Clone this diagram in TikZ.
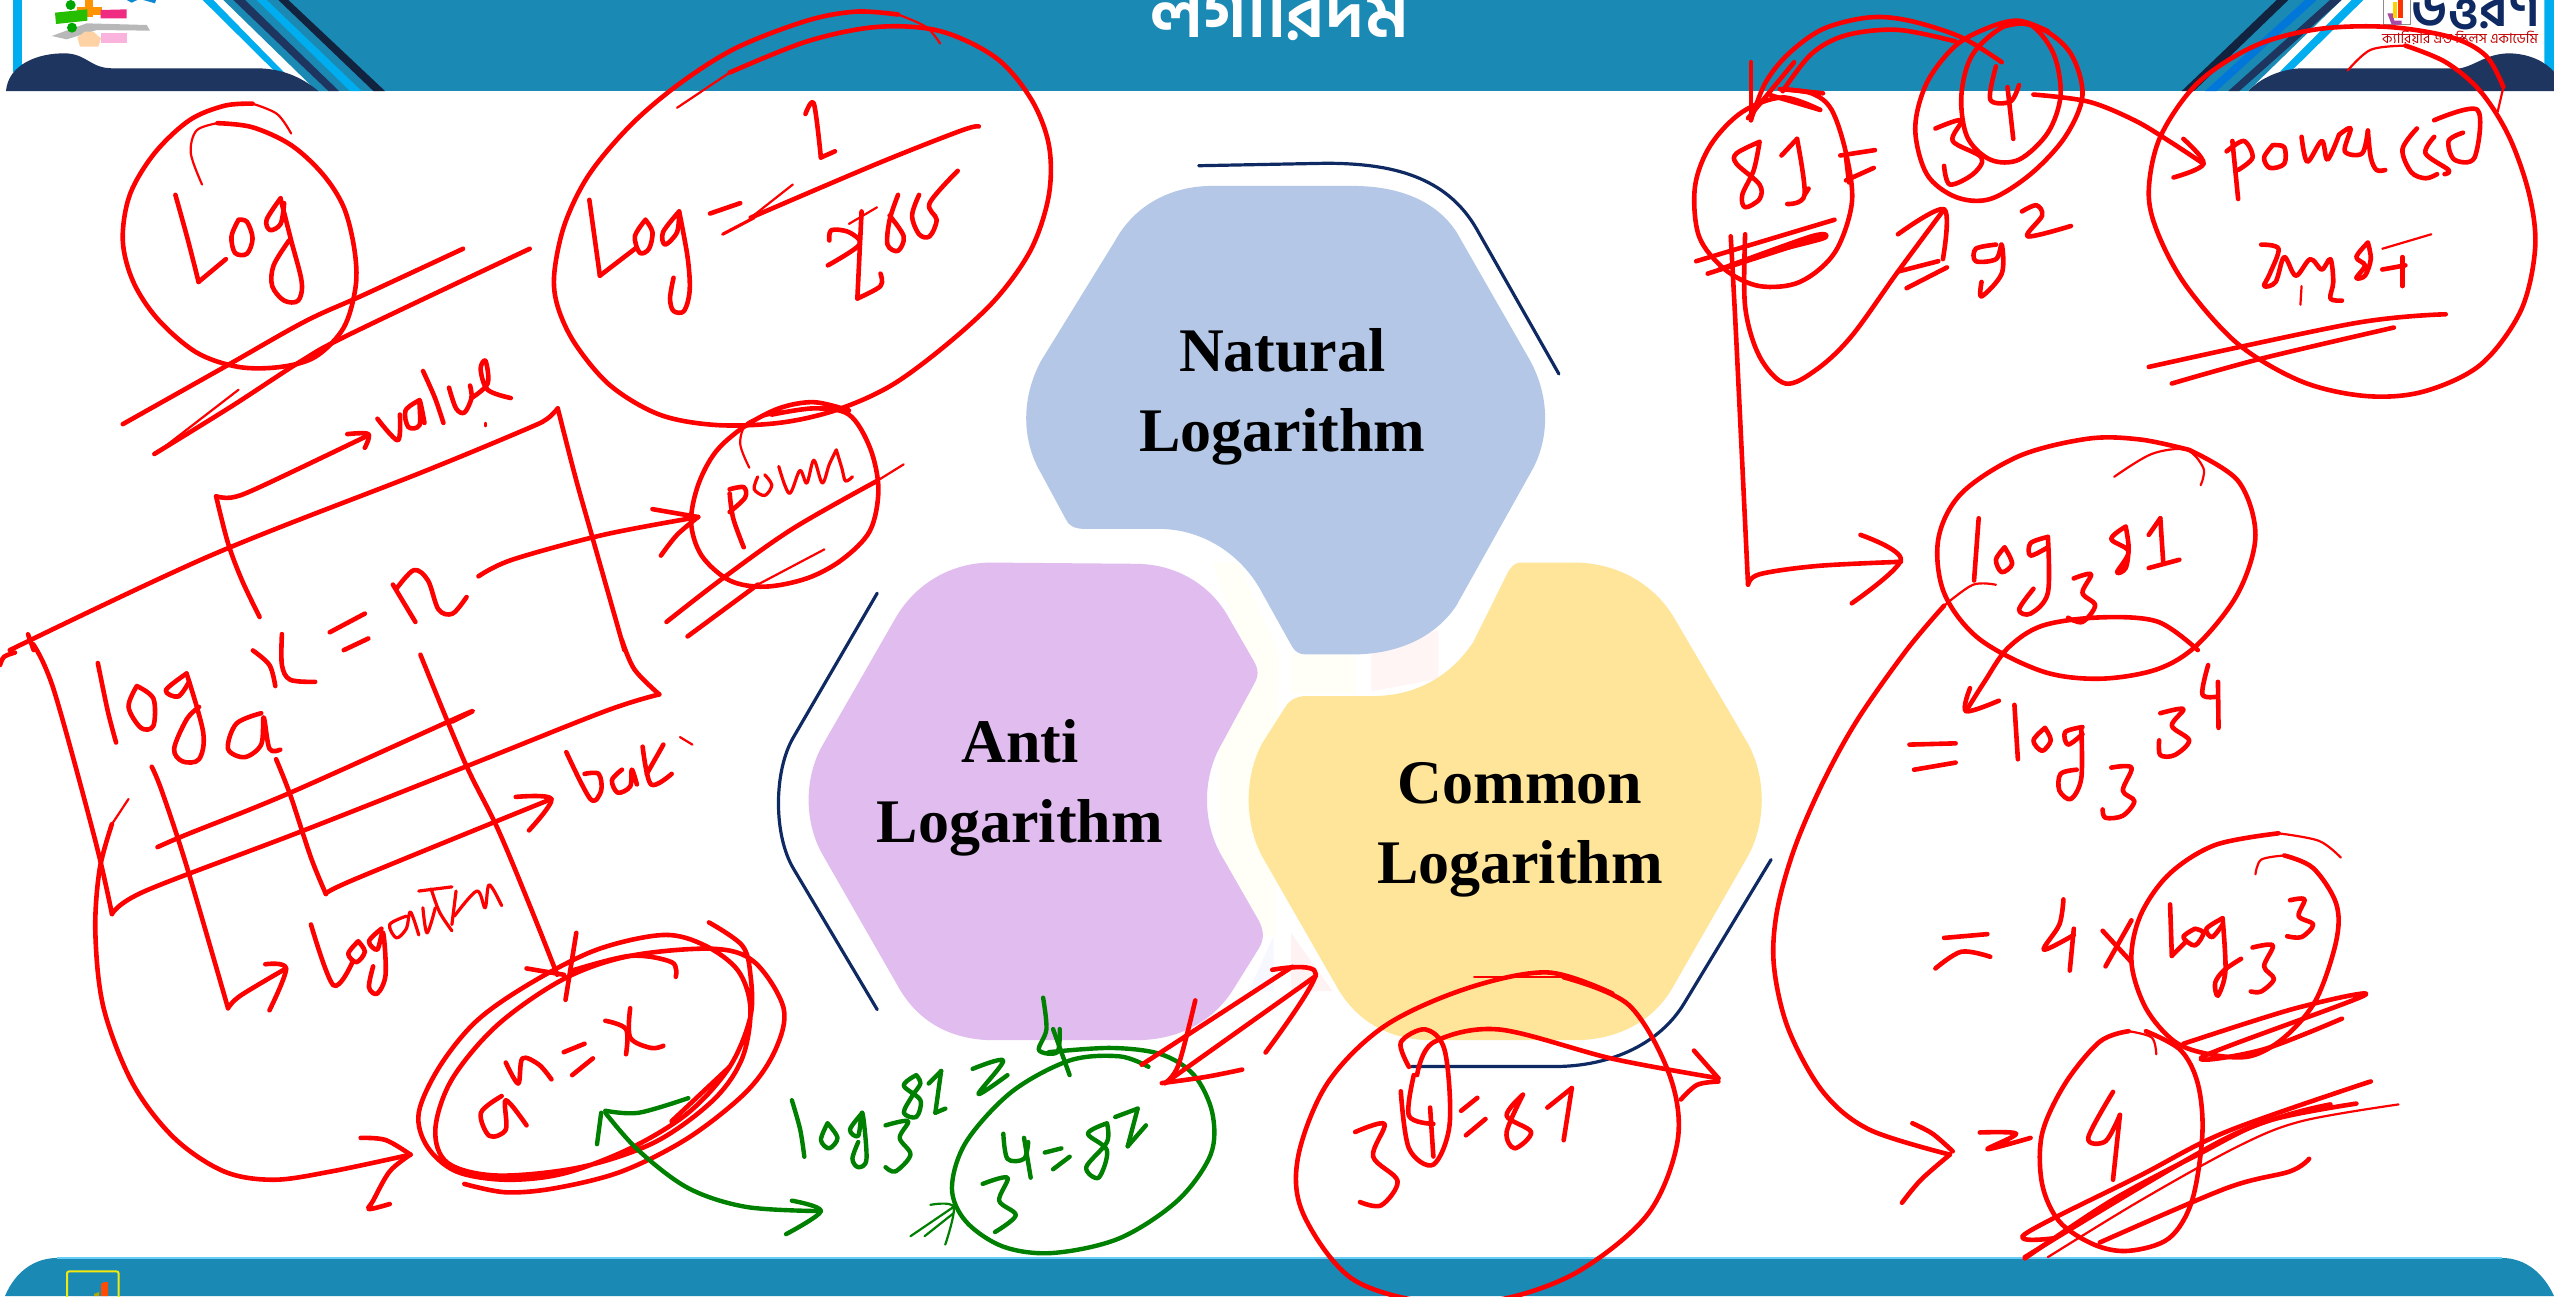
\documentclass[tikz,border=0pt]{standalone}
\usepackage{fontspec}
\setmainfont{Liberation Serif}
\newfontfamily\bn[Script=Bengali]{Hind Siliguri}
\definecolor{bar}{HTML}{1A8AB5}
\definecolor{cyanb}{HTML}{00AEEF}
\definecolor{navyb}{HTML}{1D355F}
\definecolor{navyd}{HTML}{12233F}
\definecolor{navyl}{HTML}{0F2A63}
\definecolor{shblue}{HTML}{B4C7E7}
\definecolor{shpurple}{HTML}{E1BCEE}
\definecolor{shyellow}{HTML}{FEE599}
\definecolor{inkr}{HTML}{FF0000}
\definecolor{inkg}{HTML}{008000}
\tikzset{
  zA/.style={x=.3508pt,y=-.2073pt},
  zB/.style={x=.4146pt,y=-.2092pt,shift={(0pt,-320pt)}},
  zC/.style={x=.2883pt,y=-.2073pt,shift={(825pt,0pt)}},
  zD/.style={x=.2883pt,y=-.2092pt,shift={(825pt,-320pt)}},
  zE/.style={x=.3348pt,y=-.3062pt,shift={(375pt,-70pt)}},
  zS/.style={x=.8144pt,y=-.8144pt},
  zL/.style={x=.16667pt,y=-.16667pt},
  zR/.style={x=.16667pt,y=-.16667pt,shift={(1050pt,0pt)}},
  redink/.style={draw=inkr,line width=2.3pt,line cap=round,line join=round},
  redmid/.style={draw=inkr,line width=1.6pt,line cap=round,line join=round},
  redthin/.style={draw=inkr,line width=1.1pt,line cap=round,line join=round},
  greenink/.style={draw=inkg,line width=2.2pt,line cap=round,line join=round},
  greenthin/.style={draw=inkg,line width=1.1pt,line cap=round,line join=round},
  navyline/.style={draw=navyl,line width=1.6pt,line cap=round},
  lbl/.style={font=\bfseries\fontsize{31}{40}\selectfont,align=center,text=black,inner sep=0pt}
}
\newcommand\rd[1]{\draw[redink] plot[smooth,tension=.55] coordinates {#1};}
\newcommand\rmd[1]{\draw[redmid] plot[smooth,tension=.55] coordinates {#1};}
\newcommand\rt[1]{\draw[redthin] plot[smooth,tension=.55] coordinates {#1};}
\newcommand\gr[1]{\draw[greenink] plot[smooth,tension=.55] coordinates {#1};}
\newcommand\gt[1]{\draw[greenthin] plot[smooth,tension=.55] coordinates {#1};}
\begin{document}
\begin{tikzpicture}
\useasboundingbox (0pt,0pt) rectangle (1277pt,-648pt);
\clip (0pt,0pt) rectangle (1277pt,-648pt);
\fill[white] (0pt,0pt) rectangle (1277pt,-648pt);
% header
\fill[bar] (0pt,0pt) rectangle (1277pt,-45.3pt);
\begin{scope}[zL]
\fill[white] (0,0) rectangle (40,275);
\fill[white] (40,0) -- (610,0) -- (955,275) -- (40,275) -- cycle;
\fill[white] (610,0) -- (680,0) -- (950,272) -- (860,272) -- cycle;
\fill[cyanb] (40,0) rectangle (66,215);
\fill[cyanb] (608,0) -- (640,0) -- (860,225) -- (825,215) -- cycle;
\fill[bar] (670,0) -- (700,0) -- (985,273) -- (950,273) -- cycle;
\fill[navyb] (700,0) -- (735,0) -- (1017,273) -- (985,273) -- cycle;
\fill[cyanb] (770,0) -- (800,0) -- (1085,273) -- (1050,273) -- cycle;
\fill[navyd] (835,0) -- (865,0) -- (1155,273) -- (1120,273) -- cycle;
\fill[navyb] (18,273) .. controls (25,195) and (110,158) .. (200,160) .. controls (265,165) and (270,205) .. (340,205) -- (780,205) .. controls (860,208) and (915,240) .. (955,273) -- cycle;
% logo art
\fill[black!28] (155,108) -- (260,70) -- (440,75) -- (450,92) -- (290,90) -- (200,118) -- cycle;
\fill[orange!35] (232,112) -- (255,95) -- (280,95) -- (303,115) -- (295,140) -- (240,140) -- cycle;
\fill[magenta!30] (302,98) rectangle (380,130);
\fill[orange!85!yellow] (255,0) rectangle (280,52);
\fill[orange!85!yellow] (232,20) rectangle (305,44);
\fill[magenta!75!red!85!white] (302,30) -- (380,28) -- (380,55) -- (302,55) -- cycle;
\fill[green!70!black!85!yellow] (165,38) -- (262,28) -- (262,62) -- (168,72) -- cycle;
\fill[green!65!black] (212,15) circle[radius=15];
\fill[green!65!black] (216,83) circle[radius=15];
\fill[cyan!70!blue] (380,0) -- (412,0) -- (395,8) -- cycle;
\fill[cyan!70!blue] (430,0) -- (468,0) -- (465,10) -- cycle;
\end{scope}
\begin{scope}[zR]
\fill[white] (725,0) -- (1362,0) -- (1362,273) -- (445,273) -- cycle;
\fill[navyd] (530,0) -- (565,0) -- (282,273) -- (245,273) -- cycle;
\fill[blue!45!cyan!85!black] (615,0) -- (650,0) -- (350,273) -- (315,273) -- cycle;
\fill[navyb] (690,0) -- (725,0) -- (418,273) -- (385,273) -- cycle;
\fill[cyanb] (755,0) -- (790,0) -- (575,212) -- (540,215) -- cycle;
\fill[cyanb] (1333,0) -- (1362,0) -- (1362,215) -- (1333,190) -- cycle;
\fill[navyb] (445,273) .. controls (480,235) and (540,208) .. (600,205) -- (1080,205) .. controls (1130,195) and (1160,160) .. (1230,160) .. controls (1290,162) and (1335,185) .. (1362,215) -- (1362,273) -- cycle;
\draw[black!45,line width=.4pt] (850,-5) rectangle (930,72);
\fill[violet!70!white] (862,40) -- (880,40) -- (882,62) -- (905,62) -- (905,74) -- (875,74) -- cycle;
\fill[yellow!70!orange] (880,5) rectangle (892,55);
\fill[red!60!orange] (895,0) rectangle (910,55);
\node[anchor=base,inner sep=0pt,text=navyl] (logotext) at (1128,78) {\bn\bfseries\fontsize{27}{27}\selectfont উত্তরণ};
\node[anchor=base,inner sep=0pt,text=red!75!black] (logosub) at (1080,130) {\bn\fontsize{7}{8}\selectfont ক্যারিয়ার এন্ড স্কিলস একাডেমি};
\end{scope}
\node[anchor=base,inner sep=0pt,text=white] (title) at (640pt,-18.5pt) {\bn\bfseries\fontsize{36.5}{37}\selectfont লগারিদম};
% bottom bar
\fill[bar] (2.5pt,-648pt) .. controls (8pt,-635pt) and (18pt,-629pt) .. (28.5pt,-629pt) -- (1251pt,-629pt) .. controls (1263pt,-629pt) and (1272pt,-637pt) .. (1277pt,-648pt) -- cycle;
\draw[cyan!60!white,line width=.6pt] (28.5pt,-629pt) -- (1251pt,-629pt);
\draw[yellow!95!black,line width=1pt,rounded corners=1pt] (33.5pt,-655pt) -- (33.5pt,-635.7pt) -- (59.3pt,-635.7pt) -- (59.3pt,-655pt);
\fill[orange!60!red] (50.5pt,-648pt) -- (50.5pt,-642pt) .. controls (51pt,-641pt) and (53pt,-641pt) .. (54pt,-641pt) -- (54pt,-648pt) -- cycle;
\fill[olive!70!yellow] (47pt,-648pt) -- (47pt,-647pt) -- (49.5pt,-646pt) -- (49.5pt,-648pt) -- cycle;
% hexagons
\begin{scope}[zE]
\fill[yellow!3] (690,690) -- (730,690) -- (790,840) -- (785,1300) -- (745,1300) -- (700,1180) -- (700,980) -- (755,880) -- cycle;
\fill[black!2!yellow!3] (808,840) rectangle (905,905);
\fill[red!4] (928,835) -- (1028,800) -- (1028,880) -- (928,900) -- cycle;
\fill[blue!3] (745,1390) -- (782,1300) -- (782,1390) -- cycle;
\fill[red!5] (808,1295) -- (870,1390) -- (808,1390) -- cycle;
\fill[shblue] (690,75) -- (900,75) .. controls (970,75) and (1025,100) .. (1055,150) -- (1165,360) .. controls (1195,420) and (1195,490) .. (1165,545) -- (1055,760) .. controls (1025,810) and (970,840) .. (900,840) -- (830,840) .. controls (820,840) and (814,835) .. (810,828) -- (760,730) .. controls (730,675) and (675,635) .. (610,635) -- (500,635) .. controls (485,635) and (476,630) .. (472,620) -- (435,545) .. controls (405,490) and (405,420) .. (435,360) -- (545,165) .. controls (575,105) and (630,75) .. (690,75) -- cycle;
\fill[shpurple] (360,690) -- (575,692) .. controls (640,692) and (690,730) .. (715,780) -- (752,850) .. controls (760,865) and (760,875) .. (752,890) -- (705,985) .. controls (675,1040) and (675,1115) .. (705,1170) -- (760,1275) .. controls (768,1292) and (768,1305) .. (760,1320) -- (720,1390) .. controls (690,1440) and (640,1470) .. (575,1470) -- (365,1470) .. controls (300,1470) and (250,1440) .. (220,1380) -- (110,1170) .. controls (80,1115) and (80,1040) .. (110,985) -- (215,785) .. controls (245,725) and (300,690) .. (360,690) -- cycle;
\fill[shyellow] (1150,690) -- (1230,690) .. controls (1295,690) and (1350,725) .. (1380,780) -- (1490,985) .. controls (1518,1040) and (1518,1115) .. (1490,1170) -- (1380,1380) .. controls (1350,1440) and (1295,1470) .. (1230,1470) -- (1020,1470) .. controls (955,1470) and (905,1440) .. (875,1380) -- (765,1170) .. controls (738,1115) and (738,1040) .. (765,985) -- (800,925) .. controls (806,914) and (818,908) .. (830,908) -- (930,908) .. controls (1000,908) and (1050,870) .. (1080,820) -- (1130,710) .. controls (1135,698) and (1142,690) .. (1150,690) -- cycle;
\draw[navyline] (670,42) -- (860,38) .. controls (960,38) and (1040,60) .. (1085,145) -- (1208,382);
\draw[navyline] (190,740) -- (65,975) .. controls (35,1031) and (35,1135) .. (65,1190) -- (190,1420);
\draw[navyline] (988,1513) -- (1200,1513) .. controls (1290,1513) and (1360,1473) .. (1395,1410) -- (1525,1175);
\node[lbl] (natural) at (795,420) {Natural\\Logarithm};
\node[lbl] (anti) at (403,1058) {Anti\\Logarithm};
\node[lbl] (common) at (1150,1127) {Common\\Logarithm};
\end{scope}
% ink: upper left
\begin{scope}[zA]
\rt{(288,445) (272,370) (280,315) (310,297)}
\rd{(310,297) (360,307) (415,350) (460,420) (490,500) (505,600) (507,690) (490,790) (450,860) (400,885) (340,885) (280,850) (225,770) (190,680) (175,580) (185,470) (220,370) (270,290) (320,255) (360,250)}
\rt{(360,250) (395,275) (415,322)}
\rd{(250,470) (268,580) (283,680)} \rd{(283,680) (322,625)}
\rd{(340,530) (330,570) (335,610) (352,612) (360,575) (352,535) (340,530)}
\rd{(400,478) (380,530) (385,555) (400,540) (405,490)}
\rd{(400,480) (415,580) (430,680) (425,725) (405,725) (388,690) (390,640) (412,580)}
\rd{(175,1023) (320,885) (435,775) (520,710) (660,600)}
\rd{(220,1095) (330,980) (430,870) (500,805) (755,600)}
\rt{(225,1090) (340,940)}
\rt{(965,260) (1040,175)}
\rd{(1040,175) (1150,100) (1250,65) (1340,75) (1420,140) (1470,240) (1495,350) (1495,470) (1470,600) (1420,720) (1350,830) (1270,930) (1190,990) (1110,1020) (1020,1025) (940,1000) (870,930) (820,830) (795,740) (790,660) (805,540) (840,420) (900,300) (970,200) (1050,115) (1150,50) (1220,28) (1280,35)}
\rt{(1280,35) (1320,65) (1340,105)}
\rd{(840,482) (855,665)} \rd{(855,665) (905,600)}
\rd{(920,530) (905,570) (912,610) (925,600) (930,560) (920,530)}
\rd{(968,510) (945,560) (948,590) (965,560) (968,510)}
\rd{(968,510) (980,620) (983,700) (975,750) (960,750) (955,720) (960,670)}
\rd{(1012,515) (1055,490)} \rmd{(1030,565) (1075,525)}
\rd{(1395,305) (1370,315) (1250,395) (1070,525)} \rt{(1070,525) (1130,445)}
\rd{(1148,275) (1160,250) (1170,380)} \rd{(1170,380) (1190,365)}
\rd{(1228,510) (1222,720)} \rd{(1222,720) (1255,690) (1255,660)}
\rd{(1180,640) (1225,590) (1210,560) (1185,555) (1182,580)}
\rt{(1210,540) (1250,500)}
\rd{(1280,470) (1268,530) (1265,590) (1280,605) (1288,570) (1268,520)}
\rd{(1310,470) (1300,520) (1310,565) (1325,570) (1335,530) (1325,490) (1365,412)}
% value
\rd{(370,1488) (345,1400) (325,1310) (308,1197)}
\rd{(308,1197) (330,1200) (370,1175) (525,1050)}
\rd{(495,1047) (525,1047) (520,1080)}
\rd{(538,1010) (567,1062) (570,1000)}
\rd{(598,965) (578,990) (582,1030) (598,1025) (598,965) (605,1020)}
\rd{(603,895) (620,960) (632,1020)}
\rd{(640,935) (650,985) (662,995) (672,960) (670,930)}
\rd{(672,960) (695,925) (692,870) (685,890) (695,940) (728,960)}
\rt{(692,1020) (692,1028)}
% box top and right
\rd{(14,1568) (300,1340) (600,1140) (750,1035) (780,1010) (795,985)}
\rd{(795,985) (820,1150) (845,1300) (890,1568)}
\rd{(40,1530) (48,1568)}
% n and arrow to power
\rd{(470,1525) (520,1480)} \rd{(490,1568) (525,1540)}
\rd{(560,1410) (592,1500)} \rd{(565,1420) (590,1375) (610,1400) (625,1470) (645,1480) (665,1440)}
\rd{(682,1390) (730,1350) (860,1290) (995,1247)}
\rd{(930,1228) (995,1247)} \rd{(995,1247) (965,1290) (942,1340)}
% power circle
\rt{(1068,1128) (1055,1070) (1065,1020) (1100,1000)}
\rd{(1100,1000) (1160,985) (1210,1000) (1240,1080) (1252,1180) (1240,1280) (1200,1350) (1150,1395) (1090,1415) (1040,1400) (1000,1340) (985,1260) (995,1170) (1020,1090) (1060,1030) (1110,985) (1160,970) (1210,990)}
\rd{(1040,1190) (1045,1250) (1060,1320)} \rd{(1040,1180) (1060,1175) (1062,1200) (1040,1235)}
\rmd{(1080,1150) (1075,1180) (1090,1195) (1100,1170) (1090,1145)}
\rmd{(1110,1125) (1125,1190) (1140,1135) (1150,1165) (1160,1110) (1172,1165) (1182,1120) (1192,1085)}
\rmd{(1192,1085) (1200,1130) (1205,1160) (1215,1150)}
\rd{(950,1500) (1030,1395) (1130,1275) (1250,1160)} \rt{(1250,1160) (1288,1120)}
\rd{(980,1535) (1080,1410)} \rt{(1080,1410) (1175,1325)}
\end{scope}
% ink: lower left
\begin{scope}[zB]
\rd{(0,60) (5,40) (18,30)}
\rd{(795,130) (730,170) (565,300) (360,460) (175,600) (135,655)}
\rd{(750,0) (765,70) (795,130)}
\rd{(135,655) (115,480) (65,120) (40,10)}
\rd{(305,25) (325,60) (332,110)} \rd{(340,-14) (340,60) (350,95) (380,100)}
\rd{(118,55) (130,170) (140,245)}
\rd{(165,110) (155,160) (170,210) (185,205) (185,140) (165,110)}
\rd{(225,80) (200,120) (215,135) (228,100)}
\rd{(225,80) (245,220) (240,285) (220,290) (210,260) (225,190) (240,160)}
\rd{(315,175) (285,200) (275,260) (295,280) (315,250) (318,185) (325,260) (338,262)}
\rd{(183,303) (195,360) (225,540) (275,880)} \rd{(275,880) (290,850) (345,785)} \rd{(320,775) (345,785) (325,885)}
\rd{(333,285) (350,370) (375,520) (393,607)} \rd{(393,607) (430,570) (665,380)} \rd{(622,375) (665,380) (638,455)}
\rd{(190,495) (225,465) (350,365) (560,178) (545,195)}
\rd{(507,35) (560,290) (600,450) (640,640) (672,800)} \rd{(635,785) (680,800)} \rd{(695,700) (682,860)}
\rd{(683,268) (712,380) (725,360) (722,320) (705,320)}
\rd{(750,310) (738,335) (745,365) (760,350) (762,310) (768,345)}
\rd{(775,255) (785,345) (810,320)} \rd{(800,250) (780,320)} \rt{(820,232) (835,250)}
\rd{(375,680) (402,825) (425,770)}
\rd{(432,720) (420,750) (430,770) (440,745) (432,720)}
\rd{(460,690) (445,720) (455,740) (462,700) (465,800) (455,845) (445,830) (450,780)}
\rmd{(490,660) (470,680) (478,712) (490,690) (495,650) (505,705)}
\rmd{(510,640) (515,700) (525,640)}
\rmd{(505,600) (545,590)} \rmd{(520,595) (530,650) (545,695)}
\rmd{(550,600) (545,680)} \rmd{(548,660) (575,600) (585,640) (590,585) (605,635)}
\rt{(155,380) (135,440)}
\rd{(135,440) (120,550) (115,700) (125,880) (160,1060) (210,1190) (270,1270) (330,1290) (400,1270) (495,1230)}
\rd{(435,1190) (465,1195) (495,1230)} \rd{(495,1230) (470,1270) (450,1340) (445,1360) (470,1348)}
\rd{(855,675) (895,730) (905,800) (905,900) (880,1020) (830,1130) (760,1215) (680,1275) (610,1290) (550,1270) (515,1210) (505,1130) (530,1020) (575,910) (640,820) (720,740) (800,705) (850,730) (890,790) (905,880) (895,1000) (860,1100) (790,1200) (700,1260) (600,1280) (540,1250) (525,1170) (545,1050) (600,920) (680,810) (760,755) (860,738) (910,770) (945,880) (935,980) (900,1080) (830,1190) (750,1270) (670,1310) (610,1320) (560,1300)}
\rd{(690,790) (760,755) (810,770) (815,805)}
\rd{(880,1020) (810,1150)}
\rd{(605,1090) (580,1130) (590,1185) (610,1170) (610,1100) (635,1160)}
\rd{(610,1010) (625,1060) (630,1000) (650,1015) (665,1050)}
\rd{(680,985) (705,965)} \rd{(690,1040) (715,1000)}
\rd{(730,910) (755,930) (755,990)} \rd{(760,880) (760,950) (785,975) (800,970)}
% green
\gr{(830,1095) (770,1130) (730,1125)} \gr{(725,1130) (720,1205)}
\gr{(730,1130) (770,1220) (830,1310) (900,1355) (990,1365)} \gr{(955,1340) (990,1365) (948,1420)}
\gr{(955,1100) (965,1170) (970,1235)}
\gr{(998,1155) (990,1195) (1000,1215) (1010,1190) (998,1155)}
\gr{(1040,1130) (1025,1170) (1035,1185) (1040,1130) (1045,1240) (1035,1260) (1028,1240) (1035,1200)}
\gr{(1068,1160) (1095,1150) (1085,1190) (1098,1230) (1080,1270) (1068,1260)}
\gr{(1105,1040) (1090,1065) (1110,1100) (1105,1140) (1090,1130) (1100,1090) (1110,1060) (1105,1040)}
\gr{(1120,1060) (1135,1030)} \gr{(1135,1030) (1128,1130)} \gr{(1128,1130) (1140,1120)}
\gr{(1173,1025) (1210,1005) (1180,1085) (1215,1040)}
\gr{(1258,855) (1262,930) (1253,980) (1275,985) (1278,930)} \gr{(1270,930) (1290,1040)}
\gr{(1265,985) (1340,975) (1400,990) (1440,1040) (1462,1130) (1460,1230) (1420,1340) (1350,1430) (1270,1465) (1210,1450) (1165,1390) (1148,1310) (1165,1200) (1220,1080) (1290,1005) (1350,995) (1385,1020)}
\gr{(1185,1300) (1215,1285) (1205,1340) (1225,1375) (1200,1415)}
\gr{(1210,1180) (1215,1240) (1235,1240) (1240,1200)} \gr{(1235,1190) (1243,1285)}
\gr{(1260,1225) (1280,1215)} \gr{(1270,1265) (1290,1235)}
\gr{(1335,1155) (1312,1180) (1335,1220) (1325,1285) (1310,1260) (1335,1200) (1335,1155)}
\gr{(1345,1140) (1372,1120)} \gr{(1372,1120) (1360,1210)} \gr{(1360,1210) (1382,1160)}
\gt{(1098,1425) (1150,1355)} \gt{(1122,1350) (1150,1355) (1140,1445)} \gt{(1115,1425) (1150,1370)}
\end{scope}
% red arrow between shapes and big circle under Common
\begin{scope}[zE]
\rd{(585,1510) (810,1350)} \rd{(620,1540) (845,1365)}
\rd{(780,1355) (845,1362) (770,1490)}
\rd{(665,1405) (640,1510) (620,1540)} \rd{(615,1540) (680,1530) (735,1518)}
\end{scope}
\begin{scope}[zS]
\rt{(905,600) (960,600)}
\rd{(960,600) (1000,617) (1025,660) (1030,700) (1012,745) (970,780) (925,797) (880,800) (830,785) (800,745) (797,710) (815,665) (850,630) (900,607) (950,597) (990,610)}
\rd{(865,655) (860,640) (875,632) (887,645) (890,690) (880,715) (865,705) (860,670)}
\rd{(832,695) (850,690) (843,710) (858,725) (848,740) (835,738)}
\rd{(868,660) (865,685) (880,690)} \rd{(878,680) (880,710)}
\rd{(897,682) (907,674)} \rd{(900,697) (912,687)}
\rd{(935,672) (925,685) (940,695) (930,705) (925,695) (935,672)}
\rd{(950,680) (965,668)} \rd{(965,668) (960,700)}
\rd{(870,660) (880,640) (920,632) (990,650) (1055,662)}
\rd{(1040,645) (1055,662)} \rd{(1055,664) (1042,666) (1032,675)}
\end{scope}
% ink: upper right
\begin{scope}[zC]
\rd{(295,265) (230,235) (160,270) (105,350) (78,450) (85,570) (130,650) (190,690) (260,680) (320,610) (350,490) (340,370) (315,265) (280,225) (225,215)}
\rd{(190,342) (150,370) (150,395) (190,445) (190,480) (165,500) (160,470) (180,410) (190,342)}
\rd{(228,375) (255,335)} \rd{(255,335) (268,470) (238,492)} \rd{(268,470) (275,455)}
\rd{(330,375) (390,362)} \rd{(340,380) (345,440)} \rd{(340,435) (388,405)}
\rd{(610,150) (540,90) (450,50) (380,42) (300,70) (240,130) (200,200) (175,290)}
\rd{(175,150) (175,290)}
\rd{(530,100) (430,72) (340,85) (280,130) (230,220)}
\rd{(170,285) (250,150)} \rd{(230,215) (300,225)} \rd{(210,230) (295,265)}
\rd{(690,75) (640,50) (590,65) (530,110) (480,200) (460,310) (480,420) (530,475) (590,480) (660,420) (720,330) (750,230) (730,130) (680,70) (620,60) (560,130) (540,230) (550,330) (590,385) (640,385) (690,320) (712,230) (700,130) (660,60) (610,65)}
\rd{(495,310) (540,290) (525,340) (575,380) (560,420) (520,445) (510,400)}
\rd{(600,160) (590,240) (625,245) (640,205)} \rd{(620,210) (630,335)}
\rd{(665,228) (760,245) (840,290) (900,340) (960,395)} \rd{(925,335) (960,395) (908,428)}
\rt{(1210,170) (1250,120) (1310,110)}
\rd{(1310,110) (1380,150) (1440,220) (1490,330) (1525,470) (1535,600) (1510,750) (1440,880) (1340,945) (1240,955) (1130,920) (1020,830) (930,690) (880,560) (865,460) (885,330) (950,200) (1050,110) (1160,70) (1280,65) (1390,90) (1450,135) (1480,210)}
\rt{(1480,210) (1470,270)}
\rd{(1010,340) (1020,480)} \rd{(1000,365) (1030,340) (1045,380) (1020,410)}
\rd{(1080,350) (1065,380) (1075,405) (1100,395) (1100,355) (1080,350)}
\rd{(1130,330) (1140,390) (1165,340) (1175,385) (1195,325)}
\rd{(1195,325) (1215,310) (1205,365) (1235,370) (1245,315)}
\rd{(1245,315) (1250,380) (1260,410) (1275,410)}
\rd{(1330,310) (1305,360) (1320,415) (1345,430) (1365,420)}
\rd{(1360,330) (1345,370) (1385,410) (1378,420)}
\rd{(1360,290) (1435,265) (1430,380) (1395,385) (1385,340) (1410,320)}
\rd{(1060,590) (1090,600) (1075,660) (1065,690) (1085,680) (1100,620) (1120,665) (1145,625) (1165,650) (1180,625) (1185,680) (1180,720) (1200,725)}
\rt{(1130,690) (1128,735)}
\rd{(1245,585) (1225,620) (1240,640) (1225,670) (1240,665) (1250,625) (1245,585)}
\rd{(1270,650) (1310,640)} \rd{(1305,620) (1305,690)} \rt{(1270,600) (1355,565)}
\rd{(865,885) (1220,780) (1380,758)} \rd{(905,925) (1060,865) (1290,790)} \rt{(1040,870) (930,915)}
\rd{(80,630) (320,530)} \rd{(100,660) (300,570)} \rd{(120,650) (280,570) (300,575) (200,610)}
\rd{(140,570) (150,830) (170,1410)}
\rd{(165,565) (165,740) (190,860) (235,925) (290,890) (350,810) (430,655) (510,505)}
\rd{(430,565) (510,505) (508,625)}
\rd{(430,655) (500,630)} \rd{(445,695) (515,645)}
\rd{(600,590) (565,600) (565,630) (600,625) (610,590) (610,660) (575,715) (575,680)}
\rd{(645,510) (670,495) (680,520) (655,570) (730,545)}
\rd{(170,1410) (190,1385) (290,1365) (435,1355)} \rd{(365,1290) (435,1350) (350,1455)}
\rt{(805,1150) (870,1095) (930,1085) (960,1130) (955,1170)}
\rd{(935,1085) (850,1060) (760,1058) (640,1100) (540,1190) (500,1300) (510,1430) (570,1540) (680,1619) (780,1637) (880,1614) (950,1554) (1020,1430) (1050,1290) (1020,1160) (935,1085)}
\rd{(570,1250) (562,1400)}
\rd{(615,1320) (600,1350) (610,1380) (628,1360) (615,1320)}
\rd{(690,1295) (660,1310) (660,1340) (690,1320)} \rd{(690,1295) (690,1430) (660,1480) (640,1470) (665,1420)}
\rd{(735,1395) (765,1385) (750,1430) (772,1460) (750,1500) (725,1490)}
\rd{(825,1270) (800,1300) (830,1330) (810,1380) (825,1370) (830,1320) (825,1270)}
\rd{(865,1290) (885,1250)} \rd{(885,1250) (890,1355)} \rd{(865,1370) (918,1350)}
\end{scope}
% ink: lower right
\begin{scope}[zD]
\rt{(600,-132) (560,-132) (510,-82)}
\rd{(510,-82) (445,24) (360,190) (300,340) (250,500) (220,650) (215,780) (240,930) (300,1080) (380,1170) (520,1230)}
\rd{(455,1155) (490,1180) (525,1222)} \rd{(520,1230) (470,1290) (437,1345)}
\rd{(950,24) (880,-44) (780,-54) (680,-34) (620,20) (580,100) (548,170)} \rd{(555,115) (548,170) (605,145)}
\rd{(450,250) (530,247)} \rd{(458,310) (530,293)}
\rd{(632,155) (638,285)}
\rd{(685,210) (665,240) (680,265) (695,240) (685,210)}
\rd{(750,208) (720,220) (725,250) (750,225)} \rd{(748,210) (748,330) (730,380) (710,360) (712,320) (740,310)}
\rd{(800,305) (835,305) (820,360) (840,385) (820,420) (790,425) (785,405)}
\rd{(885,175) (925,165) (905,205) (935,240) (910,275) (885,275) (883,240)}
\rd{(968,60) (958,130) (985,135)} \rd{(985,100) (986,210)}
\rd{(510,712) (585,703)} \rd{(495,785) (540,745) (590,757)}
\rd{(717,620) (710,680) (683,740) (735,705)} \rd{(735,690) (728,790)}
\rd{(785,695) (835,770)} \rd{(835,670) (790,780)}
\rt{(1050,560) (1060,525) (1100,515)}
\rd{(1100,515) (1150,545) (1190,630) (1190,720) (1155,860) (1100,950) (1040,995) (970,990) (910,960) (860,880) (835,770) (850,660) (900,560) (980,490) (1090,462)}
\rt{(1090,462) (1160,480) (1198,520)}
\rd{(902,632) (905,755)} \rd{(905,755) (930,720)}
\rd{(945,690) (925,710) (945,730) (960,700) (945,690)}
\rd{(993,665) (965,690) (975,710) (993,680)} \rd{(993,665) (998,790) (985,850) (980,820) (995,790) (1025,762)}
\rd{(1045,735) (1080,730) (1065,780) (1082,810) (1060,840) (1042,840)}
\rd{(1110,622) (1135,620) (1125,660) (1150,680) (1130,710) (1105,708)}
\rd{(925,965) (1120,880) (1238,850) (960,995) (1060,980) (1200,905)}
\rt{(878,990) (870,950) (830,935)}
\rd{(830,935) (780,960) (720,1060) (680,1180) (680,1300) (710,1390) (770,1445) (830,1460) (900,1430) (940,1340) (958,1180) (950,1060) (920,980) (860,935)}
\rd{(803,1080) (760,1190) (790,1198) (815,1135)} \rd{(815,1135) (803,1290)}
\rd{(572,1177) (635,1180) (585,1217) (660,1190)}
\rd{(1250,1055) (1000,1175) (850,1280) (650,1420) (700,1430)}
\rd{(650,1478) (800,1340) (950,1230) (1070,1150) (1225,1108)}
\rt{(690,1475) (850,1340) (1020,1210) (1130,1150) (1298,1110)}
\rd{(780,1440) (1000,1310) (1110,1270) (1143,1240)}
\rd{(650,1475) (1000,1190) (1180,1110)}
\end{scope}
\end{tikzpicture}
\end{document}
